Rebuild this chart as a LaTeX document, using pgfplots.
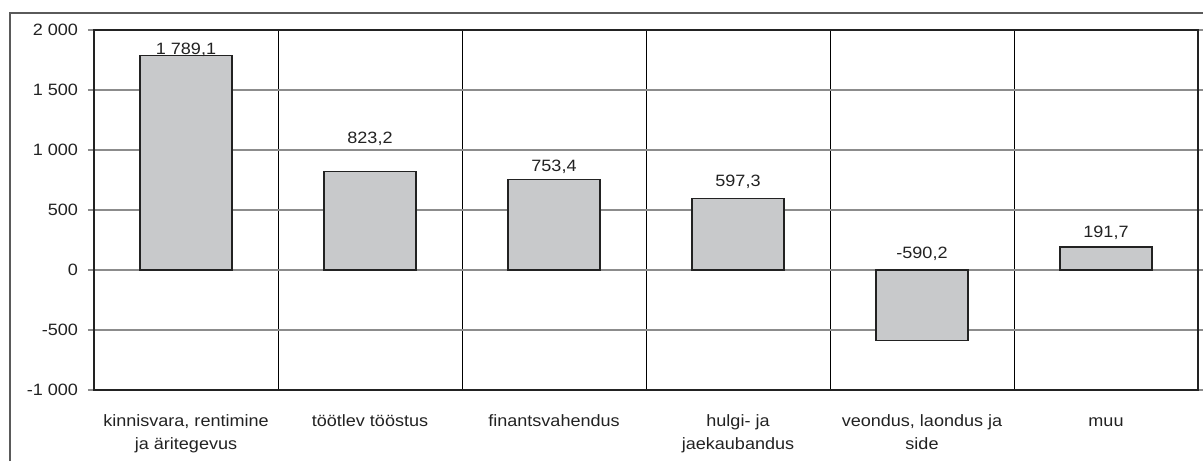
\documentclass[border=0pt]{standalone}
\usepackage{fontspec}
\setmainfont{Liberation Sans}[FakeStretch=1.1]
\usepackage{pgfplots}
\pgfplotsset{compat=1.18}
\definecolor{barfill}{HTML}{C8C9CB}
\definecolor{gridgray}{HTML}{8C8C8C}
\definecolor{txt}{HTML}{222222}
\definecolor{framegray}{HTML}{5A5A5A}
\begin{document}
\begin{tikzpicture}
\useasboundingbox (0,0) rectangle (902.25pt,345.75pt);
\draw[color=framegray, line width=1.2pt] (7.5pt,0) -- (7.5pt,336pt) -- (903pt,336pt);
\begin{axis}[
  at={(70.5pt,53.25pt)}, anchor=south west,
  scale only axis, width=828pt, height=270pt,
  xmin=-0.5, xmax=5.5, ymin=-1000, ymax=2000,
  ytick={-1000,-500,0,500,1000,1500,2000},
  yticklabels={-1 000,-500,0,500,1 000,1 500,2 000},
  xtick={0,1,2,3,4,5},
  xticklabels={{kinnisvara, rentimine\\ja äritegevus}, töötlev tööstus, finantsvahendus, {hulgi- ja\\jaekaubandus}, {veondus, laondus ja\\side}, {\vphantom{k}muu}},
  minor xtick={0.5,1.5,2.5,3.5,4.5},
  xminorgrids, minor x grid style={black, line width=0.7pt},
  ymajorgrids, major y grid style={gridgray, line width=1pt},
  tick align=outside,
  major tick length=4.5pt, minor tick length=0pt,
  xtick style={draw=none},
  ytick style={gridgray, line width=1pt},
  axis line style={txt, line width=1pt},
  yticklabel style={font=\fontsize{12.3}{15}\selectfont, text=txt, xshift=-4pt},
  xticklabel style={font=\fontsize{12.3}{17.3}\selectfont, text=txt, align=center, yshift=-10.5pt},
  clip=false,
]
\addplot[ybar, bar width=0.5, fill=barfill, draw=txt, line width=0.9pt]
  coordinates {(0,1789.1) (1,823.2) (2,753.4) (3,597.3) (4,-590.2) (5,191.7)};
\addplot[draw=none, mark=none, nodes near coords, point meta=explicit symbolic,
  nodes near coords style={anchor=center, font=\fontsize{12.3}{15}\selectfont, text=txt}]
  coordinates {(0,1833) [1 789,1] (1,1092) [823,2] (2,858) [753,4] (3,733) [597,3] (4,133) [-590,2] (5,308) [191,7]};
\end{axis}
\end{tikzpicture}
\end{document}
